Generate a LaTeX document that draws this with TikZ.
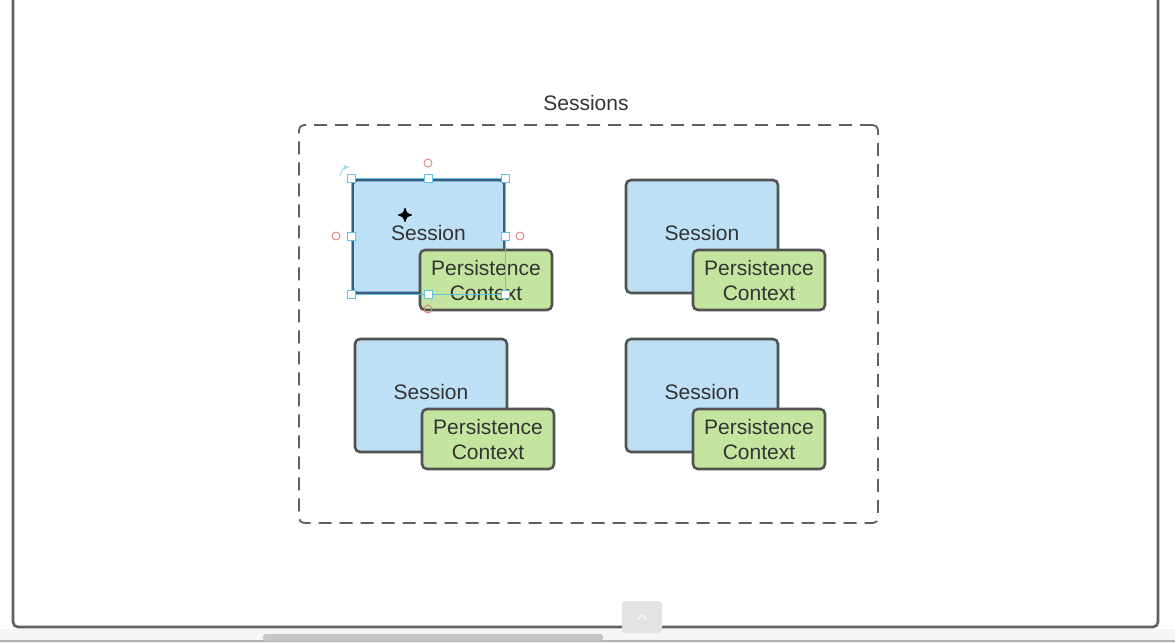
\documentclass[tikz,border=0pt]{standalone}
\usepackage{fontspec}
\setmainfont{Liberation Sans}
\usepackage{xcolor}
\usepackage{tikz}
\usetikzlibrary{arrows}

\definecolor{sessionblue}{RGB}{190,224,247}
\definecolor{pcgreen}{RGB}{196,229,160}
\definecolor{boxline}{RGB}{82,82,82}
\definecolor{selline}{RGB}{55,95,125}
\definecolor{textgray}{RGB}{51,51,51}
\definecolor{selcyan}{RGB}{95,195,225}
\definecolor{handlered}{RGB}{228,128,128}

\begin{document}
\begin{tikzpicture}[x=1pt,y=-1pt,semithick]
  \tikzstyle{every node}=[font=\fontsize{21}{25}\selectfont,text=textgray]
  \tikzstyle{session}=[draw=boxline,line width=2.6pt,fill=sessionblue,rounded corners=5pt,minimum width=152pt,minimum height=113pt,text depth=7pt]
  \tikzstyle{context}=[draw=boxline,line width=2.6pt,fill=pcgreen,rounded corners=5pt,minimum width=132pt,minimum height=60pt,align=center,inner sep=0pt]
  \tikzstyle{handle}=[draw=selcyan,fill=white,line width=0.9pt,minimum size=8pt,inner sep=0pt]
  \tikzstyle{pin}=[draw=handlered,circle,line width=0.9pt,minimum size=8pt,inner sep=0pt]

  \clip (0,0) rectangle (1175,643);
  \fill[white] (0,0) rectangle (1175,643);

  % canvas frame
  \fill[gray!8] (0,629) rectangle (1175,643);
  \draw[gray!75!black,line width=2.6pt,rounded corners=5pt] (13,-10) -- (13,627) -- (1158,627) -- (1158,-10);
  \draw[gray!60,line width=1.2pt] (0,641) -- (1175,641);
  \fill[gray!45,rounded corners=3pt] (263,634) rectangle (603,641);
  \node[fill=gray!22,rounded corners=3pt,minimum width=40pt,minimum height=32pt] (up) at (642,617) {};
  \draw[white,line width=1pt] (637,620) -- (642,615) -- (647,620);

  % container
  \node (title) at (586,103) {Sessions};
  \node[draw=gray!75!black,dashed,dash pattern=on 13pt off 8pt,line width=1.8pt,rounded corners=5pt,minimum width=579pt,minimum height=398pt] (box) at (588.5,324) {};

  \node[session,draw=selline] (S1) at (428.5,236.5) {Session};
  \node[session]         (S2) at (702,236.5) {Session};
  \node[session]         (S3) at (431,395.5) {Session};
  \node[session]         (S4) at (702,395.5) {Session};

  \node[context]         (P1) at (486,280) {Persistence\\Context};
  \node[context]         (P2) at (759,280) {Persistence\\Context};
  \node[context]         (P3) at (488,439) {Persistence\\Context};
  \node[context]         (P4) at (759,439) {Persistence\\Context};

  % selection of S1
  \draw[selcyan,line width=1.2pt] (S1.north west) rectangle (S1.south east);
  \node[handle] (h1) at (S1.north west) {};
  \node[handle] (h2) at (S1.north) {};
  \node[handle] (h3) at (S1.north east) {};
  \node[handle] (h4) at (S1.west) {};
  \node[handle] (h5) at (S1.east) {};
  \node[handle] (h6) at (S1.south west) {};
  \node[handle] (h7) at (S1.south) {};
  \node[handle] (h8) at (S1.south east) {};
  \node[pin] (c1) at (428,163) {};
  \node[pin] (c2) at (336,236) {};
  \node[pin] (c3) at (520,236) {};
  \node[pin] (c4) at (428,309) {};
  \draw[selcyan!60,line width=1pt,->,>=stealth'] (340,176) to[bend left=40] (349,167);
  \draw[black,line width=1.2pt,<->,>=stealth'] (398,215) -- (412,215);
  \draw[black,line width=1.2pt,<->,>=stealth'] (405,208) -- (405,222);
\end{tikzpicture}
\end{document}
